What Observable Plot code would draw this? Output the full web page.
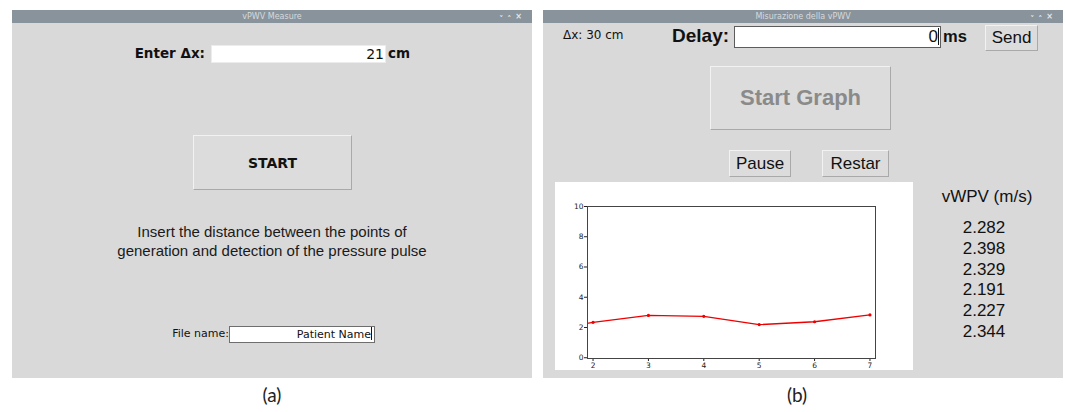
<!DOCTYPE html>
<html>
<head>
<meta charset="utf-8">
<script src="https://cdn.jsdelivr.net/npm/d3@7"></script>
<script src="https://cdn.jsdelivr.net/npm/@observablehq/plot@0.6"></script>
<style>
  html, body { margin: 0; padding: 0; background: #fff; }
  #root { position: relative; width: 1065px; height: 412px; overflow: hidden; background: #fff; font-family: "Liberation Sans", Arial, sans-serif; color: #111; }
  .abs { position: absolute; }
  .win { position: absolute; background: #d9d9d9; }
  .bar { position: absolute; left: 0; right: 0; top: 0; height: 13px; background: #89939b; color: #d6dadd; font-size: 8px; line-height: 13px; text-align: center; font-family: "DejaVu Sans", sans-serif; }
  .icons { position: absolute; right: 6px; top: 0; line-height: 13px; font-size: 8px; letter-spacing: 4px; color: #e2e6e9; font-weight: bold; }
  .icons .lo { position: relative; top: 3px; }
  .btn { position: absolute; box-sizing: border-box; background: #dcdcdc; border-top: 1px solid #f2f2f2; border-left: 1px solid #f2f2f2; border-right: 1px solid #a9a9a9; border-bottom: 1px solid #a9a9a9; display: flex; align-items: center; justify-content: center; }
  .entry { position: absolute; box-sizing: border-box; background: #fff; text-align: right; white-space: nowrap; }
  .cap { position: absolute; font-family: Lato, "Open Sans", sans-serif; font-size: 19px; color: #222; transform: translateX(-50%); }
</style>
</head>
<body>
<div id="root"></div>
<script>
// ---- data ----
const samples = [1, 2, 3, 4, 5, 6, 7];                 // sample index on the x axis
const speeds  = [1.75, 2.34, 2.80, 2.74, 2.19, 2.38, 2.83]; // plotted vPWV values (m/s)
const yTicks  = [0, 2, 4, 6, 8, 10];
const xTicks  = [2, 3, 4, 5, 6, 7];
const listedSpeeds = ["2.282", "2.398", "2.329", "2.191", "2.227", "2.344"];
const titleA = "vPWV Measure";
const titleB = "Misurazione della vPWV";
const deltaX = "21";
const deltaXb = "30";
const delayValue = "0";
const fileName = "Patient Name";

const root = document.getElementById("root");
function el(tag, cls, css, html) {
  const e = document.createElement(tag);
  if (cls) e.className = cls;
  if (css) e.style.cssText = css;
  if (html != null) e.innerHTML = html;
  return e;
}
const ICONS = '<span class="icons"><span class="lo">&#709;</span><span class="lo">&#708;</span>&#215;</span>';

// ---------- Window (a) ----------
const A = el("div", "win", "left:12px;top:10px;width:520px;height:368px;");
root.appendChild(A);
A.appendChild(el("div", "bar", "", titleA + ICONS));
A.appendChild(el("div", "abs", "right:327px;top:35px;font:bold 13.5px 'DejaVu Sans',sans-serif;", "Enter &Delta;x:"));
A.appendChild(el("div", "entry", "left:199px;top:35px;width:175px;height:18px;border:1px solid #ececec;font:14px 'DejaVu Sans',sans-serif;line-height:16px;padding-right:1px;", deltaX));
A.appendChild(el("div", "abs", "left:376px;top:35px;font:bold 13.5px 'DejaVu Sans',sans-serif;", "cm"));
A.appendChild(el("div", "btn", "left:181px;top:125px;width:159px;height:55px;font:bold 14px 'DejaVu Sans',sans-serif;", "START"));
A.appendChild(el("div", "abs", "left:0;width:520px;top:212px;text-align:center;font:15px 'Liberation Sans',sans-serif;line-height:19px;color:#1a1a1a;", "Insert the distance between the points of<br>generation and detection of the pressure pulse"));
A.appendChild(el("div", "abs", "right:303px;top:317px;font:11px 'DejaVu Sans',sans-serif;", "File name:"));
A.appendChild(el("div", "entry", "left:217px;top:316px;width:146px;height:17px;border:1px solid #6e6e6e;font:11px 'DejaVu Sans',sans-serif;line-height:15px;padding-right:2px;", fileName + '<span style="display:inline-block;width:1px;height:13px;background:#111;vertical-align:-2px;"></span>'));

// ---------- Window (b) ----------
const B = el("div", "win", "left:543px;top:10px;width:520px;height:368px;");
root.appendChild(B);
B.appendChild(el("div", "bar", "", titleB + ICONS));
B.appendChild(el("div", "abs", "left:20px;top:18px;font:12px 'DejaVu Sans',sans-serif;", "&Delta;x: " + deltaXb + " cm"));
B.appendChild(el("div", "abs", "left:129px;top:15px;font:bold 19px 'Liberation Sans',sans-serif;", "Delay:"));
B.appendChild(el("div", "entry", "left:191px;top:16px;width:207px;height:22px;border:1px solid #5c5c5c;font:17px 'Liberation Sans',sans-serif;line-height:20px;padding-right:1px;", delayValue + '<span style="display:inline-block;width:1px;height:17px;background:#111;vertical-align:-3px;"></span>'));
B.appendChild(el("div", "abs", "left:400px;top:17px;font:bold 16.5px 'Liberation Sans',sans-serif;", "ms"));
B.appendChild(el("div", "btn", "left:442px;top:15px;width:53px;height:26px;font:17px 'Liberation Sans',sans-serif;", "Send"));
B.appendChild(el("div", "btn", "left:167px;top:56px;width:181px;height:64px;font:bold 22px 'Liberation Sans',sans-serif;color:#8a8a8a;", "Start Graph"));
B.appendChild(el("div", "btn", "left:186px;top:140px;width:62px;height:27px;font:17px 'Liberation Sans',sans-serif;", "Pause"));
B.appendChild(el("div", "btn", "left:279px;top:140px;width:67px;height:27px;font:17px 'Liberation Sans',sans-serif;", "Restar"));
B.appendChild(el("div", "abs", "left:394px;width:100px;top:177px;text-align:center;font:17px 'Liberation Sans',sans-serif;", "vWPV (m/s)"));
const list = el("div", "abs", "left:391px;width:100px;top:208px;text-align:center;font:17px 'Liberation Sans',sans-serif;line-height:20.8px;");
list.innerHTML = listedSpeeds.join("<br>");
B.appendChild(list);

// chart panel
const panel = el("div", "abs", "left:12px;top:172px;width:358px;height:188px;background:#fff;");
B.appendChild(panel);

const data = samples.map((s, i) => ({sample: s, speed: speeds[i]}));
const chart = Plot.plot({
  width: 358,
  height: 188,
  marginLeft: 32,
  marginRight: 38,
  marginTop: 24,
  marginBottom: 12,
  style: {background: "white", fontSize: "7.5px", fontFamily: "'DejaVu Sans', sans-serif", color: "#222"},
  x: {domain: [1.9, 7.1], ticks: xTicks, tickSize: 3, tickPadding: 1, label: null, tickFormat: d3.format("d")},
  y: {domain: [-0.05, 10], ticks: yTicks, tickSize: 3, tickPadding: 1, label: null, tickFormat: d3.format("d")},
  marks: [
    Plot.line(data, {x: "sample", y: "speed", stroke: "#ee0000", strokeWidth: 1.3, clip: true}),
    Plot.dot(data, {x: "sample", y: "speed", fill: "#ee0000", r: 1.6, clip: true}),
    Plot.frame({stroke: "#444", strokeWidth: 1})
  ]
});
panel.appendChild(chart);

// captions
root.appendChild(el("div", "cap", "left:272px;top:383px;", "(a)"));
root.appendChild(el("div", "cap", "left:797px;top:383px;", "(b)"));
</script>
</body>
</html>
